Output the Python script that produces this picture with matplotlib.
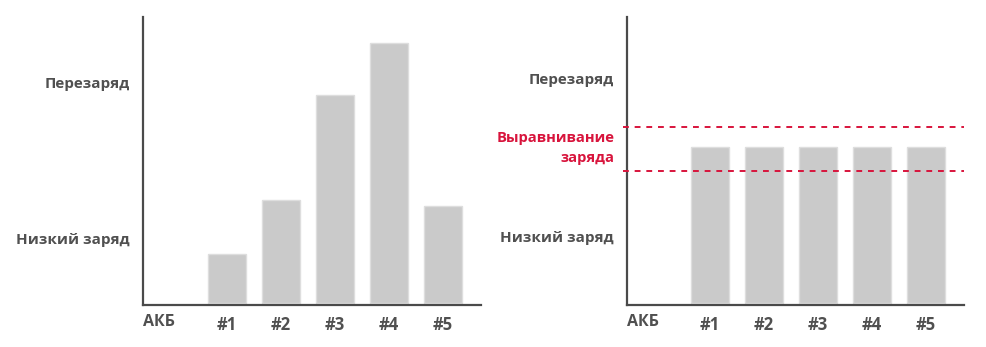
import matplotlib
matplotlib.use("Agg")
import matplotlib.pyplot as plt

categories = ["#1", "#2", "#3", "#4", "#5"]
base_label = "АКБ"
left_values = [17.0, 35.8, 72.2, 90.3, 33.7]
right_values = [54.2, 54.2, 54.2, 54.2, 54.2]
balance_band = [46.5, 61.8]
left_ylabels = [("Перезаряд", 76.7), ("Низкий заряд", 22.6)]
right_ylabels = [("Перезаряд", 78.1), ("Низкий заряд", 23.3)]
balance_label = ("Выравнивание\nзаряда", 54.5)

W, H = 987, 347
fig = plt.figure(figsize=(W / 100, H / 100), dpi=100)
plt.rcParams['font.family'] = ['Open Sans', 'DejaVu Sans']

GREY_TXT = "#505050"
RED = "#d8143c"
BAR = "#cacaca"
EDGE = "#dedede"
AX = "#4a4a4a"
FS = 11
FSX = 12

def make_ax(x0, x1, y0, y1):
    return fig.add_axes([x0 / W, 1 - y1 / H, (x1 - x0) / W, (y1 - y0) / H])

def style(ax, xlim, values, ylabels):
    pos = list(range(1, len(categories) + 1))
    ax.bar(pos, values, width=0.70, bottom=0.6, color=BAR, edgecolor=EDGE, linewidth=1.0, zorder=2)
    ax.set_xlim(*xlim)
    ax.set_ylim(0, 100)
    for s in ["top", "right"]:
        ax.spines[s].set_visible(False)
    for s in ["left", "bottom"]:
        ax.spines[s].set_color(AX)
        ax.spines[s].set_linewidth(1.6)
    ax.set_xticks(pos)
    ax.set_xticklabels(categories, fontsize=FSX, fontweight='bold', color=GREY_TXT)
    ax.tick_params(axis='x', length=0, pad=8)
    ax.set_yticks([])
    ax.text(0, -0.059, base_label, transform=ax.transAxes,
            ha='left', va='center', fontsize=11.5, fontweight='bold', color=GREY_TXT)
    for lab, yv in ylabels:
        ax.text(-0.04, yv, lab, transform=ax.get_yaxis_transform(), ha='right', va='center',
                fontsize=FS, fontweight='bold', color=GREY_TXT)

# left panel
axL = make_ax(143, 481, 17, 305)
style(axL, (-0.556, 5.70), left_values, left_ylabels)

# right panel
axR = make_ax(627, 964, 17, 305)
style(axR, (-0.537, 5.70), right_values, right_ylabels)
for yv in balance_band:
    axR.plot([-0.612, 5.70], [yv, yv], color=RED, lw=1.4, ls=(0, (3, 3)), clip_on=False, zorder=3)
axR.text(-0.038, balance_label[1], balance_label[0], transform=axR.get_yaxis_transform(),
         ha='right', va='center', fontsize=10.6, fontweight='bold', color=RED, linespacing=1.55,
         multialignment='right')

fig.savefig("out.png", dpi=100)
